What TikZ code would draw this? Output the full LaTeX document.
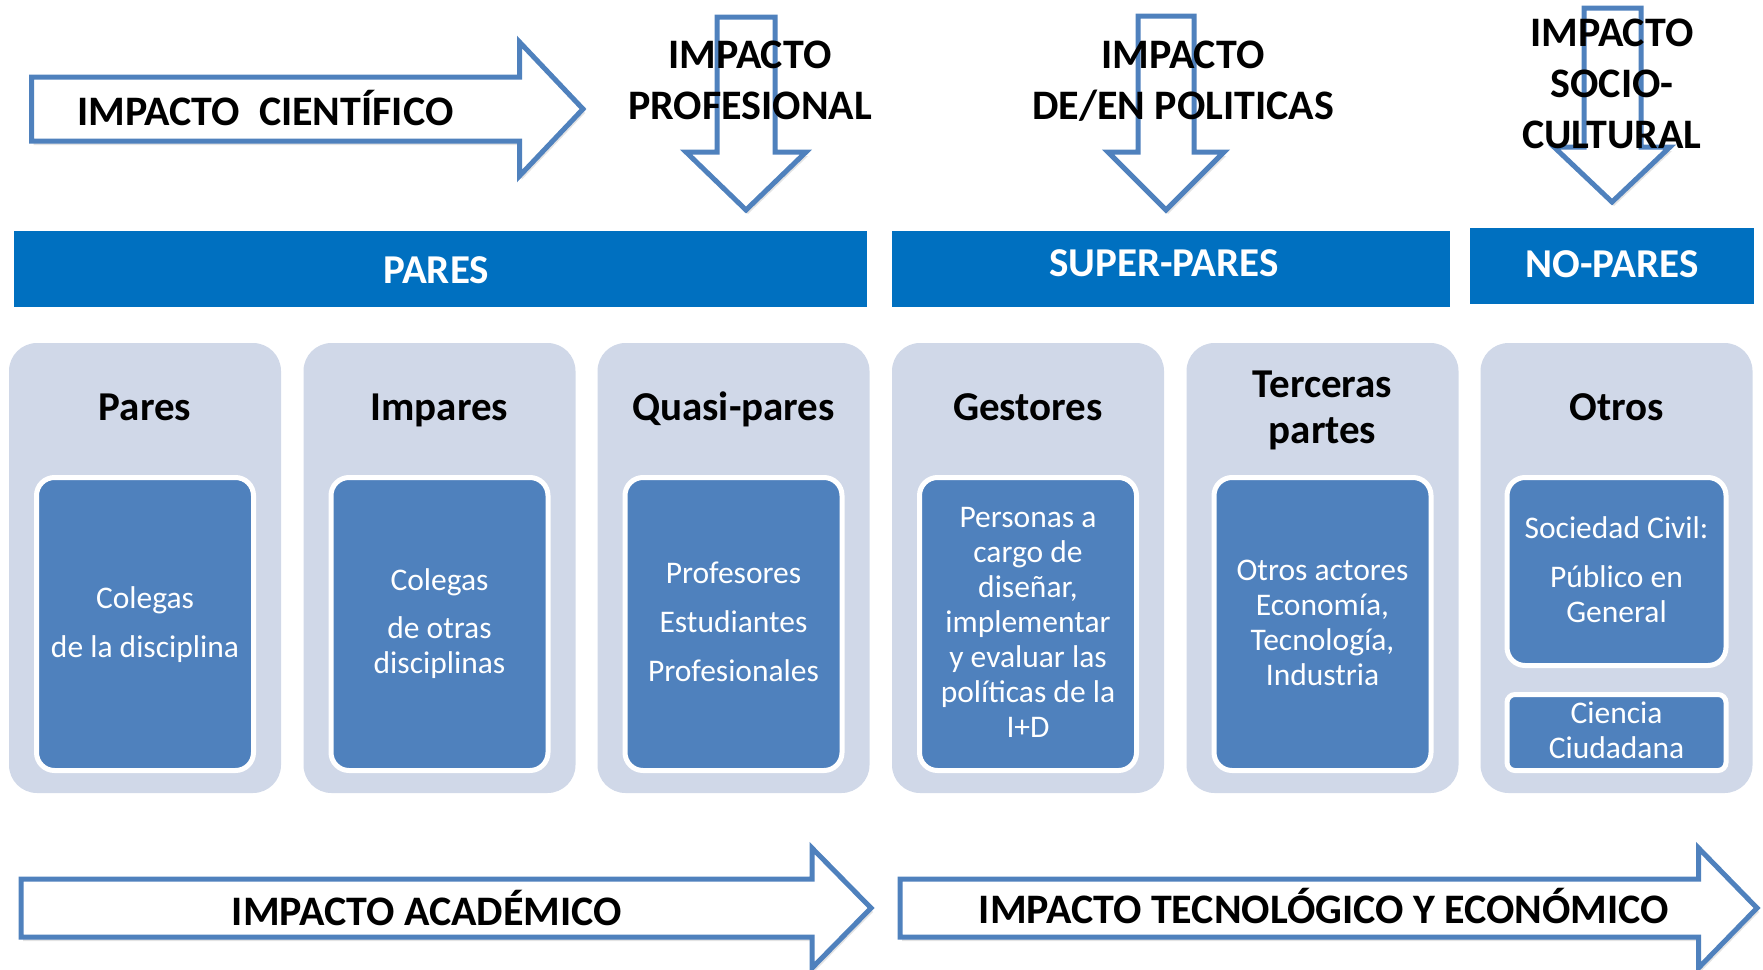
\documentclass[tikz,border=0pt]{standalone}
\usepackage{fontspec}
\setmainfont{Carlito}
\usetikzlibrary{shadows}
\definecolor{barblue}{HTML}{0070C0}
\definecolor{boxgrey}{HTML}{D0D8E8}
\definecolor{innerblue}{HTML}{4F81BD}
\definecolor{arrowblue}{HTML}{4F81BD}
\tikzset{
  arrowshape/.style={draw=arrowblue, line width=5pt, fill=white, line join=miter,
    drop shadow={opacity=0.22, shadow xshift=2pt, shadow yshift=-4pt}},
  hdr/.style={font=\fontsize{42}{51}\selectfont\bfseries, align=center, anchor=base, inner sep=0pt, text=black},
  bar/.style={fill=barblue, draw=none, inner sep=0pt},
  bartext/.style={font=\fontsize{41}{46}\selectfont\bfseries, anchor=base, inner sep=0pt, text=white},
  outerbox/.style={fill=boxgrey, draw=none, rounded corners=28pt, minimum width=272pt, minimum height=450pt, inner sep=0pt},
  innerbox/.style={fill=innerblue, draw=white, line width=5pt, rounded corners=18pt, inner sep=0pt},
  ttl/.style={font=\fontsize{41}{46}\selectfont\bfseries, align=center, anchor=base, inner sep=0pt, text=black},
  body/.style={font=\fontsize{31.5}{35}\selectfont, align=center, anchor=base, inner sep=0pt, text=white}
}
\begin{document}
\begin{tikzpicture}[x=1pt,y=-1pt]
\useasboundingbox (0,0) rectangle (1763,969);
% top arrows
\path[arrowshape] (31.5,77) -- (519.5,77) -- (519.5,42) -- (583,109) -- (519.5,176) -- (519.5,141) -- (31.5,141) -- cycle;
\path[arrowshape] (717,17) -- (775,17) -- (775,152) -- (806,152) -- (746,210) -- (686,152) -- (717,152) -- cycle;
\path[arrowshape] (1138,16) -- (1194,16) -- (1194,152) -- (1224,152) -- (1166,210) -- (1108,152) -- (1138,152) -- cycle;
\path[arrowshape] (1584,8) -- (1641,8) -- (1641,147) -- (1670,147) -- (1612,202) -- (1554,147) -- (1584,147) -- cycle;
\node[hdr, anchor=base west] (tcien) at (77,125) {IMPACTO\ \ CIENTÍFICO};
\node[hdr] (tprof) at (750,119) {IMPACTO\\PROFESIONAL};
\node[hdr] (tpol) at (1183,119) {IMPACTO\\DE/EN POLITICAS};
\node[hdr] (tsoc) at (1612,148) {IMPACTO\\SOCIO-\\CULTURAL};
% bars
\node[bar, minimum width=853pt, minimum height=76pt] (bpares) at (440.5,269) {};
\node[bar, minimum width=558pt, minimum height=76pt] (bsuper) at (1171,269) {};
\node[bar, minimum width=284pt, minimum height=76pt] (bno) at (1612,266) {};
\node[bartext] (lpares) at (436,283) {PARES};
\node[bartext] (lsuper) at (1164,276) {SUPER-PARES};
\node[bartext] (lno) at (1612,277) {NO-PARES};
% outer boxes
\node[outerbox] (o1) at (145,568) {};
\node[outerbox] (o2) at (439.5,568) {};
\node[outerbox] (o3) at (733.5,568) {};
\node[outerbox] (o4) at (1028,568) {};
\node[outerbox] (o5) at (1322.5,568) {};
\node[outerbox] (o6) at (1616.5,568) {};
% titles
\node[ttl] (t1) at (145,420) {Pares};
\node[ttl] (t2) at (439.5,420) {Impares};
\node[ttl] (t3) at (733.5,420) {Quasi-pares};
\node[ttl] (t4) at (1028,420) {Gestores};
\node[ttl] (t5) at (1322.5,443) {Terceras\\partes};
\node[ttl] (t6) at (1616.5,420) {Otros};
% inner boxes
\node[innerbox, minimum width=217pt, minimum height=293pt] (i1) at (145,624) {};
\node[innerbox, minimum width=217pt, minimum height=293pt] (i2) at (439.5,624) {};
\node[innerbox, minimum width=217pt, minimum height=293pt] (i3) at (733.5,624) {};
\node[innerbox, minimum width=217pt, minimum height=293pt] (i4) at (1028,624) {};
\node[innerbox, minimum width=217pt, minimum height=293pt] (i5) at (1322.5,624) {};
\node[innerbox, minimum width=219pt, minimum height=188pt] (i6a) at (1616.5,571.5) {};
\node[innerbox, rounded corners=8pt, minimum width=219pt, minimum height=76pt] (i6b) at (1616.5,732.5) {};
% body texts (anchored at the baseline of the last line)
\node[body] (x1) at (145,657) {Colegas\\[14pt]de la disciplina};
\node[body] (x2) at (439.5,673) {Colegas\\[13pt]de otras\\disciplinas};
\node[body] (x3) at (733.5,681) {Profesores\\[14pt]Estudiantes\\[14pt]Profesionales};
\node[body] (x4) at (1028,737) {Personas a\\cargo de\\diseñar,\\implementar\\y evaluar las\\políticas de la\\I+D};
\node[body] (x5) at (1322.5,685) {Otros actores\\Economía,\\Tecnología,\\Industria};
\node[body] (x6a) at (1616.5,622) {Sociedad Civil:\\[14pt]Público en\\General};
\node[body] (x6b) at (1616.5,758) {Ciencia\\Ciudadana};
% bottom arrows
\path[arrowshape] (21,879) -- (812,879) -- (812,848) -- (871,908) -- (812,968) -- (812,937) -- (21,937) -- cycle;
\path[arrowshape] (900,879) -- (1698.5,879) -- (1698.5,848) -- (1757,908) -- (1698.5,968) -- (1698.5,937) -- (900,937) -- cycle;
\node[hdr] (tacad) at (427,925) {IMPACTO ACADÉMICO};
\node[hdr] (ttec) at (1324,923) {IMPACTO TECNOLÓGICO Y ECONÓMICO};
\end{tikzpicture}
\end{document}
